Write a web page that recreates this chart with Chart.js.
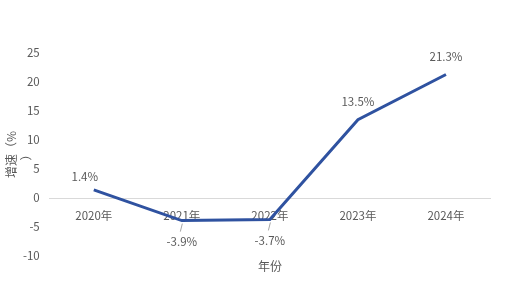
<!DOCTYPE html>
<html>
<head>
<meta charset="utf-8">
<script src="https://cdn.jsdelivr.net/npm/chart.js@4"></script>
<style>
  html, body { margin: 0; padding: 0; background: #fff; }
  #wrap { width: 508px; height: 306px; }
</style>
</head>
<body>
<div id="wrap"><canvas id="myChart" width="508" height="306"></canvas></div>
<script>
const years = ['2020年', '2021年', '2022年', '2023年', '2024年'];
const growth = [1.4, -3.9, -3.7, 13.5, 21.3];
const growthLabels = ['1.4%', '-3.9%', '-3.7%', '13.5%', '21.3%'];
const yTicks = [-10, 25, 5];

const font = '"Microsoft YaHei", "Noto Sans CJK SC", sans-serif';
const textColor = '#595959';

// labels above / below each point, with a small leader for the ones under the line
const pointLabels = {
  id: 'pointLabels',
  afterDatasetsDraw(chart) {
    const ctx = chart.ctx;
    const area = chart.chartArea;
    const meta = chart.getDatasetMeta(0);
    ctx.save();
    ctx.font = '11.5px ' + font;
    ctx.fillStyle = textColor;
    ctx.textAlign = 'center';
    ctx.textBaseline = 'middle';
    meta.data.forEach((pt, i) => {
      const v = growth[i];
      if (v < 0) {
        ctx.strokeStyle = '#A6A6A6';
        ctx.lineWidth = 1;
        ctx.beginPath();
        ctx.moveTo(pt.x + 0.5, pt.y + 3);
        ctx.lineTo(pt.x - 1.5, pt.y + 11);
        ctx.stroke();
        ctx.fillText(growthLabels[i], pt.x, pt.y + 21);
      } else if (i === 0) {
        ctx.fillText(growthLabels[i], pt.x - 9, pt.y - 13);
      } else {
        ctx.fillText(growthLabels[i], pt.x, pt.y - 18);
      }
    });
    // axis titles
    ctx.font = '12px ' + font;
    ctx.fillText('年份', (area.left + area.right) / 2, area.bottom + 10);
    ctx.translate(area.left - 38, (area.top + area.bottom) / 2);
    ctx.rotate(-Math.PI / 2);
    ctx.fillText('增速（%', 0, 0);
    ctx.fillText('）', 0, 15);
    ctx.restore();
  }
};

const ctx = document.getElementById('myChart').getContext('2d');
new Chart(ctx, {
  type: 'line',
  data: {
    labels: years,
    datasets: [{
      data: growth,
      borderColor: '#2F52A0',
      borderWidth: 3,
      pointRadius: 0,
      tension: 0,
      fill: false
    }]
  },
  options: {
    responsive: false,
    animation: false,
    layout: { padding: { top: 53, right: 18, bottom: 50, left: 13 } },
    plugins: { legend: { display: false }, tooltip: { enabled: false } },
    scales: {
      x: {
        position: { y: 0 },
        offset: true,
        grid: { display: false, drawTicks: false },
        border: { display: true, color: '#D9D9D9', width: 1 },
        ticks: { color: textColor, font: { family: font, size: 11.5 }, padding: 11, maxRotation: 0 }
      },
      y: {
        min: yTicks[0],
        max: yTicks[1],
        grid: { display: false, drawTicks: false },
        border: { display: false },
        ticks: { stepSize: yTicks[2], color: textColor, font: { family: font, size: 11.5 }, padding: 10 }
      }
    }
  },
  plugins: [pointLabels]
});
</script>
</body>
</html>
